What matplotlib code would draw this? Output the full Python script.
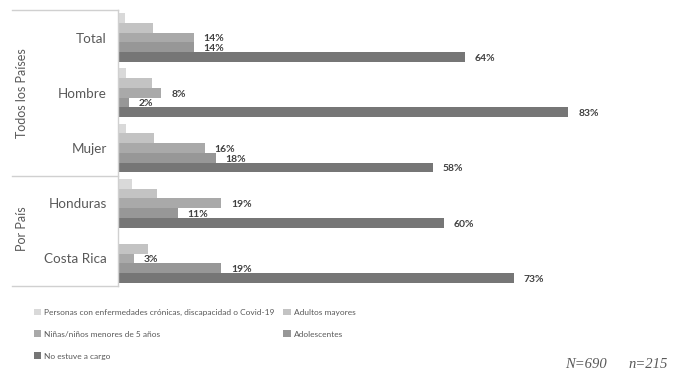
import numpy as np
import matplotlib
matplotlib.use("Agg")
from matplotlib import pyplot as plt
from matplotlib.patches import Patch

categories = ["Total", "Hombre", "Mujer", "Honduras", "Costa Rica"]
series_names = ["Personas con enfermedades crónicas, discapacidad o Covid-19",
                "Adultos mayores",
                "Niñas/niños menores de 5 años",
                "Adolescentes",
                "No estuve a cargo"]
personas = [1.2, 1.5, 1.5, 2.5, 0]
adultos = [6.5, 6.3, 6.7, 7.2, 5.6]
ninos = [14, 8, 16, 19, 3]
adolescentes = [14, 2, 18, 11, 19]
no_estuve = [64, 83, 58, 60, 73]
labelled = [False, False, True, True, True]
colors = ["#d9d9d9", "#c3c3c3", "#a9a9a9", "#979797", "#767676"]

plt.rcParams['font.family'] = ['Lato', 'DejaVu Sans']
txt = "#595959"

fig = plt.figure(figsize=(6.84, 3.69), dpi=100)
ax = fig.add_axes([118/684, 83/369, 540/684, 276/369])

y = np.arange(len(categories))
h = 0.177
all_series = [personas, adultos, ninos, adolescentes, no_estuve]
for i, vals in enumerate(all_series):
    pos = y + (i - 2) * h
    bars = ax.barh(pos, vals, height=h, color=colors[i], edgecolor="none")
    if labelled[i]:
        for b, v in zip(bars, vals):
            ax.annotate(f"{v:.0f}%", (b.get_width(), b.get_y() + b.get_height()/2),
                        xytext=(7, -1), textcoords="offset points",
                        ha="left", va="center", fontsize=7.5, fontweight="bold",
                        color="#404040")

ax.set_xlim(0, 99.5)
ax.set_ylim(4.5, -0.5)
ax.set_yticks(y)
ax.set_yticklabels(categories, fontsize=9.7, color=txt)
ax.tick_params(axis="y", length=0, pad=8)
ax.set_xticks([])
for s in ["top", "right", "bottom"]:
    ax.spines[s].set_visible(False)
ax.spines["left"].set_color("#d0d0d0")
ax.spines["left"].set_linewidth(1)

# group separators on the left
for yy in [-0.5, 2.5, 4.5]:
    ax.plot([-106/540*99.5, 0], [yy, yy], color="#d0d0d0", lw=1,
            clip_on=False)

fig.text(22/684, 1 - 93/369, "Todos los Países", rotation=90, ha="center",
         va="center", fontsize=9, color=txt)
fig.text(22/684, 1 - 229/369, "Por País", rotation=90, ha="center",
         va="center", fontsize=9, color=txt)

handles = [Patch(facecolor=c, edgecolor="none") for c in colors]
order = [0, 2, 4, 1, 3]
fig.legend([handles[k] for k in order], [series_names[k] for k in order],
           ncol=2, loc="upper left", bbox_to_anchor=(26/684, 1 - 301/369),
           frameon=False, fontsize=6, labelcolor=txt, handlelength=0.9,
           handleheight=0.9, handletextpad=0.4, labelspacing=1.75,
           columnspacing=1.0)

fig.text(565/684, 1 - 364/369, "N=690", fontsize=10.5, color=txt,
         family="Liberation Serif", style="italic", va="center")
fig.text(628/684, 1 - 364/369, "n=215", fontsize=10.5, color=txt,
         family="Liberation Serif", style="italic", va="center")

fig.savefig("out.png", dpi=100)
